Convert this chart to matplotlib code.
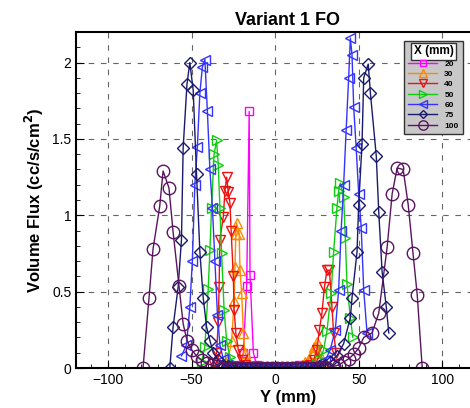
import matplotlib.pyplot as plt
from matplotlib.ticker import MultipleLocator

plt.rcParams['font.family'] = ['Liberation Sans', 'DejaVu Sans']

# measured profiles, X = distance downstream (mm)
labels = ['20', '30', '40', '50', '60', '75', '100']

y20 = [-21, -19, -17, -15.5, -15, -13, -11, -8, -5, -2, 1, 4, 7, 10, 12, 14, 16]
v20 = [0.02, 0.1, 0.54, 1.68, 0.61, 0.1, 0.02, 0.0, 0.0, 0.0, 0.0, 0.0, 0.0, 0.0, 0.01, 0.02, 0.01]

y30 = [-30, -28, -26, -24.5, -24, -23.5, -23, -21.5, -21, -20, -19, -18, -16, -14, -11, -8, -5, -2,
       1, 4, 7, 10, 12, 14, 16, 18, 20, 22, 23.5, 25, 26.5, 28]
v30 = [0.02, 0.06, 0.18, 0.44, 0.66, 0.88, 0.95, 0.88, 0.64, 0.49, 0.23, 0.1, 0.04, 0.01, 0.0, 0.0, 0.0, 0.0,
       0.0, 0.0, 0.0, 0.0, 0.0, 0.01, 0.02, 0.04, 0.06, 0.1, 0.14, 0.17, 0.1, 0.04]

y40 = [-37, -35, -34, -33.5, -33, -31, -30, -29, -28, -27, -26.3, -25, -24.5, -23.5, -22, -20, -18,
       -15, -12, -9, -6, -3, 0, 3, 6, 9, 12, 15, 17,
       19, 21, 23, 25, 26.5, 28, 29.5, 31, 32.5, 34, 35, 36.5]
v40 = [0.03, 0.1, 0.3, 0.53, 0.84, 0.99, 1.16, 1.25, 1.15, 1.08, 0.9, 0.6, 0.38, 0.23, 0.12, 0.05, 0.02,
       0.0, 0.0, 0.0, 0.0, 0.0, 0.0, 0.0, 0.0, 0.0, 0.0, 0.0, 0.0,
       0.01, 0.02, 0.05, 0.12, 0.25, 0.36, 0.53, 0.64, 0.64, 0.4, 0.23, 0.1]

y50 = [-44, -42, -40, -39, -38, -36.5, -35, -34, -33, -32, -30.5, -29, -27, -25, -23,
       -20, -17, -14, -11, -8, -5, -2, 1, 4, 7, 10, 13, 16, 19, 21,
       23, 25, 27, 29, 31, 33.5, 35, 37, 38, 39, 41, 42, 43, 45, 46.5]
v50 = [0.04, 0.14, 0.52, 0.77, 1.05, 1.4, 1.49, 1.33, 1.05, 0.75, 0.38, 0.18, 0.07, 0.03, 0.01,
       0.0, 0.0, 0.0, 0.0, 0.0, 0.0, 0.0, 0.0, 0.0, 0.0, 0.0, 0.0, 0.0, 0.0, 0.0,
       0.01, 0.02, 0.05, 0.12, 0.24, 0.49, 0.76, 1.05, 1.16, 1.21, 1.12, 0.85, 0.55, 0.33, 0.2]

y60 = [-56, -53, -51, -49.5, -48, -46.5, -45, -43.5, -42, -40.5, -39, -37.5, -36, -34.5, -33, -31, -29, -27,
       -24, -21, -18, -15, -12, -9, -6, -3, 0, 3, 6, 9, 12, 15, 18, 21, 24,
       27, 30, 33, 36, 38, 39.5, 41, 42.5, 44, 45, 46, 47, 48.5, 50, 51.5, 53, 55]
v60 = [0.08, 0.15, 0.4, 0.7, 1.2, 1.45, 1.8, 1.97, 2.02, 1.68, 1.3, 1.05, 0.7, 0.35, 0.15, 0.06, 0.02, 0.01,
       0.0, 0.0, 0.0, 0.0, 0.0, 0.0, 0.0, 0.0, 0.0, 0.0, 0.0, 0.0, 0.0, 0.0, 0.0, 0.0, 0.01,
       0.02, 0.05, 0.12, 0.25, 0.51, 0.9, 1.2, 1.56, 1.9, 2.16, 2.05, 1.71, 1.44, 1.14, 0.92, 0.51, 0.23]

y75 = [-63, -61, -58, -56, -55, -52.7, -51, -49, -47, -45, -43, -41, -39, -37, -34, -31, -28,
       -25, -22, -19, -16, -13, -10, -7, -4, -1, 2, 5, 8, 11, 14, 17, 20, 23, 26,
       30, 33, 37, 41, 45, 46, 49, 50, 52, 53, 55.7, 57, 60.5, 62, 64, 66.5, 68]
v75 = [0.0, 0.27, 0.53, 0.84, 1.44, 1.86, 2.0, 1.82, 1.27, 0.76, 0.46, 0.27, 0.18, 0.1, 0.05, 0.02, 0.01,
       0.0, 0.0, 0.0, 0.0, 0.0, 0.0, 0.0, 0.0, 0.0, 0.0, 0.0, 0.0, 0.0, 0.0, 0.0, 0.0, 0.0, 0.01,
       0.02, 0.04, 0.08, 0.16, 0.33, 0.46, 0.76, 1.07, 1.47, 1.9, 1.99, 1.8, 1.39, 1.02, 0.63, 0.4, 0.23]

y100 = [-79, -75.4, -73, -69, -67, -63.5, -61, -57.5, -55, -52.7, -50, -47, -44, -41, -38, -35,
        -32, -29, -26, -23, -20, -17, -14, -11, -8, -5, -2, 1, 4, 7, 10, 13, 16, 19, 22, 25, 28, 31,
        35, 38, 41, 44, 47, 50, 53, 58, 62, 67, 70, 73, 76.6, 79.6, 82.5, 85, 88]
v100 = [0.0, 0.46, 0.78, 1.06, 1.29, 1.18, 0.89, 0.54, 0.29, 0.18, 0.12, 0.08, 0.05, 0.03, 0.02, 0.01,
        0.0, 0.0, 0.0, 0.0, 0.0, 0.0, 0.0, 0.0, 0.0, 0.0, 0.0, 0.0, 0.0, 0.0, 0.0, 0.0, 0.0, 0.0, 0.0, 0.0, 0.0, 0.0,
        0.01, 0.02, 0.04, 0.06, 0.09, 0.13, 0.2, 0.23, 0.36, 0.79, 1.14, 1.31, 1.3, 1.07, 0.75, 0.48, 0.0]

ys = [y20, y30, y40, y50, y60, y75, y100]
vs = [v20, v30, v40, v50, v60, v75, v100]
colors = ['#ff00ff', '#ff8a00', '#ee1111', '#11cc11', '#3333ff', '#1a1a6e', '#5a1460']
markers = ['s', '^', 'v', '>', '<', 'D', 'o']
msizes = [6, 7, 7, 7, 7, 6, 9]

fig = plt.figure(figsize=(4.7, 4.08), dpi=100)
ax = fig.add_axes([0.162, 0.098, 0.9, 0.8235])

for y, v, c, m, ms, lab in zip(ys, vs, colors, markers, msizes, labels):
    ax.plot(y, v, color=c, marker=m, markersize=ms,
            markerfacecolor='none', markeredgecolor=c, markeredgewidth=1.0,
            linewidth=1.0, label=lab)

ax.set_xlim(-119, 134)
ax.set_ylim(0, 2.2)
ax.xaxis.set_major_locator(MultipleLocator(50))
ax.xaxis.set_minor_locator(MultipleLocator(10))
ax.yaxis.set_major_locator(MultipleLocator(0.5))
ax.yaxis.set_minor_locator(MultipleLocator(0.1))
ax.yaxis.set_major_formatter(plt.FuncFormatter(lambda val, pos: f'{val:g}'))
ax.tick_params(which='both', direction='in', top=False, right=False, labelsize=10)
ax.tick_params(which='major', length=6)
ax.tick_params(which='minor', length=3)
ax.grid(True, which='major', linestyle=(0, (5, 6)), color='#666666', linewidth=0.8)
for s in ax.spines.values():
    s.set_linewidth(1.5)

ax.set_title('Variant 1 FO', fontsize=13, fontweight='bold', pad=5)
ax.set_xlabel('Y (mm)', fontsize=12, fontweight='bold', labelpad=2)
ax.set_ylabel('Volume Flux (cc/s/cm$^\\mathbf{2}$)', fontsize=12, fontweight='bold', labelpad=4)

leg = ax.legend(title='X (mm)', loc='upper left', bbox_to_anchor=(0.766, 0.985),
                fontsize=6, title_fontsize=8.5, frameon=True, fancybox=False,
                facecolor='#c8c8c8', edgecolor='#333333', framealpha=1, markerscale=0.75,
                handlelength=3.4, handletextpad=0.9, labelspacing=0.3, borderpad=0.5)
leg.get_title().set_fontweight('bold')
leg.get_title().set_bbox(dict(facecolor='white', edgecolor='#333333', pad=1.5))
for t in leg.get_texts():
    t.set_fontweight('bold')

fig.savefig('out.png', dpi=100)
